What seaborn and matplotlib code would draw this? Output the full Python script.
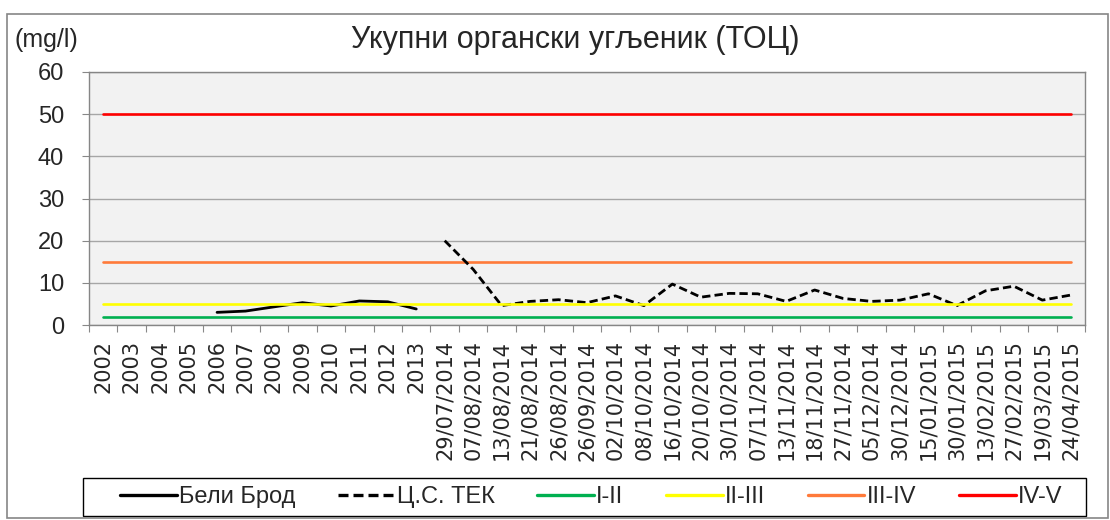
import numpy as np
import pandas as pd
import matplotlib
matplotlib.use("Agg")
import matplotlib.pyplot as plt
from matplotlib.patches import Rectangle
import seaborn as sns

# Sampling points: yearly means, then individual sampling dates
categories = ["2002", "2003", "2004", "2005", "2006", "2007", "2008", "2009",
              "2010", "2011", "2012", "2013",
              "29/07/2014", "07/08/2014", "13/08/2014", "21/08/2014", "26/08/2014",
              "26/09/2014", "02/10/2014", "08/10/2014", "16/10/2014", "20/10/2014",
              "30/10/2014", "07/11/2014", "13/11/2014", "18/11/2014", "27/11/2014",
              "05/12/2014", "30/12/2014", "15/01/2015", "30/01/2015", "13/02/2015",
              "27/02/2015", "19/03/2015", "24/04/2015"]

# Total organic carbon, mg/l (NaN = no measurement)
beli_brod = [np.nan] * 4 + [3.0, 3.3, 4.3, 5.3, 4.5, 5.7, 5.5, 3.8] + [np.nan] * 23
cs_tek = [np.nan] * 12 + [20.0, 13.2, 4.6, 5.6, 6.0, 5.3, 6.9, 4.6, 9.7, 6.6, 7.5,
                          7.4, 5.6, 8.3, 6.3, 5.6, 5.9, 7.4, 4.6, 8.1, 9.2, 5.9, 7.1]

# Class boundaries
class_names = ["I-II", "II-III", "III-IV", "IV-V"]
class_values = [2, 5, 15, 50]
class_colors = ["#00B050", "#FFFF00", "#FF7A3A", "#FF0000"]

yticks = [0, 10, 20, 30, 40, 50, 60]

W, H = 1110, 520

sns.set_theme(style="white")
plt.rcParams["font.family"] = ["Liberation Sans", "DejaVu Sans"]

fig = plt.figure(figsize=(W / 100, H / 100), dpi=100)
ax = fig.add_axes([89 / W, 1 - 325 / H, (1085 - 89) / W, (325 - 72) / H])
ax.set_facecolor("#F2F2F2")

x = np.arange(len(categories))
df = pd.DataFrame({"x": x, "bb": beli_brod, "tek": cs_tek})

sns.lineplot(data=df, x="x", y="bb", ax=ax, color="black", linewidth=2.0,
             label="Бели Брод", zorder=3)
sns.lineplot(data=df, x="x", y="tek", ax=ax, color="black", linewidth=2.0,
             linestyle=(0, (3.0, 1.5)), label="Ц.С. ТЕК", zorder=3)
for name, val, col in zip(class_names, class_values, class_colors):
    sns.lineplot(x=x, y=[val] * len(x), ax=ax, color=col, linewidth=1.9,
                 label=name, zorder=4 if name == "II-III" else 2)

ax.set_xlim(-0.5, len(categories) - 0.5)
ax.set_ylim(0, 60)
ax.set_yticks(yticks)
ax.set_yticklabels([str(v) for v in yticks], fontsize=17)
ax.set_xticks(x)
ax.set_xticklabels(categories, rotation=90, fontsize=15, family="DejaVu Sans")
ax.set_xticks(np.arange(-0.5, len(categories)), minor=True)
ax.tick_params(axis="x", which="major", length=0, pad=11)
ax.tick_params(axis="x", which="minor", length=5, color="#888888", width=0.8, bottom=True)
ax.tick_params(axis="y", length=5, color="#888888", width=0.8, pad=13, left=True)
ax.set_xlabel("")
ax.set_ylabel("")
ax.grid(axis="y", color="#A6A6A6", linewidth=1.0)
ax.set_axisbelow(True)
for s in ax.spines.values():
    s.set_color("#868686")
    s.set_linewidth(1.0)

h, l = ax.get_legend_handles_labels()
ax.get_legend().remove()

# Legend frame spanning the bottom strip, entries centred inside it
leg_x0, leg_x1, leg_y0, leg_y1 = 83, 1086, 478, 516
fig.patches.append(Rectangle((leg_x0 / W, 1 - leg_y1 / H), (leg_x1 - leg_x0) / W,
                             (leg_y1 - leg_y0) / H, transform=fig.transFigure,
                             fill=False, edgecolor="black", linewidth=1.0))
leg = fig.legend(h, l, loc="center", ncol=6,
                 bbox_to_anchor=((leg_x0 + leg_x1) / 2 / W + 0.006, 1 - (leg_y0 + leg_y1) / 2 / H),
                 frameon=False, fontsize=17, handlelength=2.4, handletextpad=0.1,
                 columnspacing=1.8, borderaxespad=0.0, borderpad=0.0)
for line in leg.get_lines():
    line.set_linewidth(2.4)

fig.text(575 / W, 1 - 40 / H, "Укупни органски угљеник (ТОЦ)", ha="center",
         va="center", fontsize=22)
fig.text(15 / W, 1 - 40 / H, "(mg/l)", ha="left", va="center", fontsize=18)

# Outer chart border
fig.patches.append(Rectangle((7 / W, 2 / H), (W - 9) / W, (H - 16) / H,
                             transform=fig.transFigure, fill=False,
                             edgecolor="#868686", linewidth=1.2))

fig.savefig("out.png", dpi=100)
